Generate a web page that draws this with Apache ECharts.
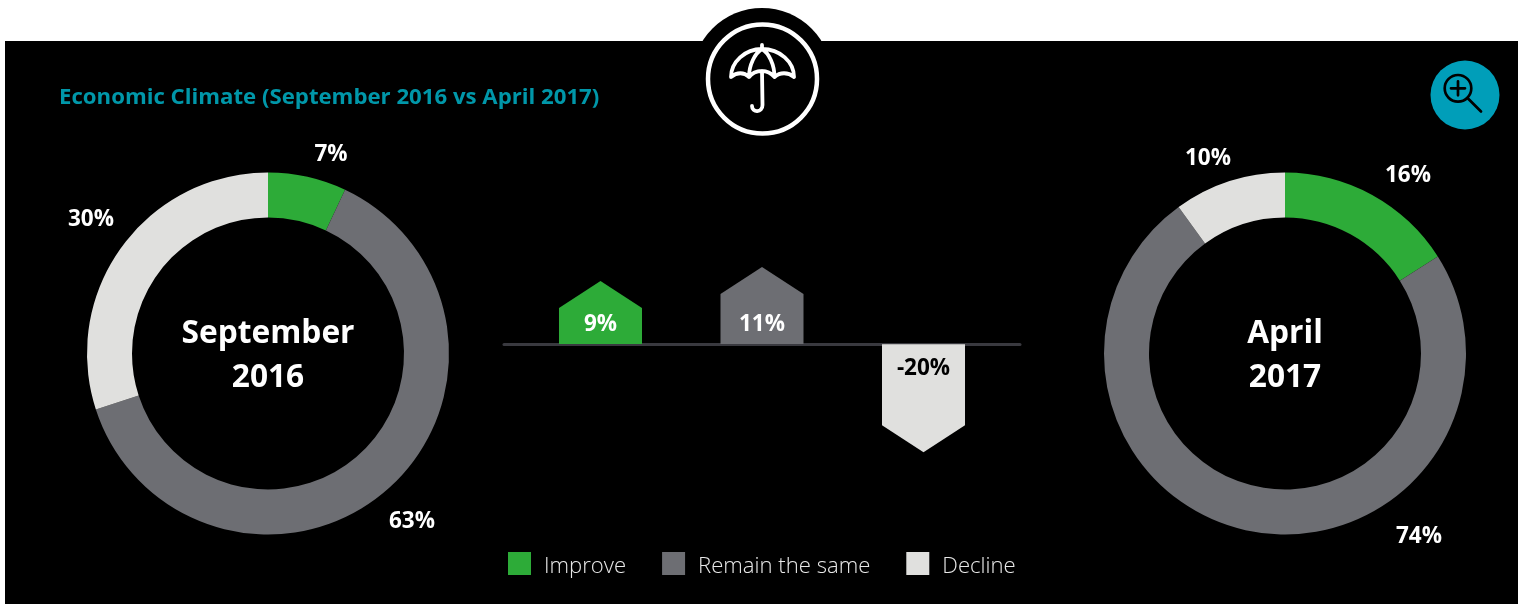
<!DOCTYPE html>
<html>
<head>
<meta charset="utf-8">
<title>Economic Climate</title>
<script src="https://cdn.jsdelivr.net/npm/echarts@6/dist/echarts.min.js"></script>
<style>
  html, body { margin: 0; padding: 0; background: #fff; }
  #chart { width: 1521px; height: 604px; }
</style>
</head>
<body>
<div id="chart"></div>
<script>
const categories = ['Improve', 'Remain the same', 'Decline'];
const september2016 = [7, 63, 30];
const april2017 = [16, 74, 10];
const changeValues = [9, 11, -20];
const chartTitle = 'Economic Climate (September 2016 vs April 2017)';
const leftCenterLabel = 'September\n2016';
const rightCenterLabel = 'April\n2017';

const GREEN = '#2dab38';
const GREY = '#6d6e73';
const LIGHT = '#e0e0de';
const TEAL = '#009eb9';
const FONT = '"Open Sans", "Noto Sans", sans-serif';
const colors = [GREEN, GREY, LIGHT];
const ARROW = 27;

// the donut labels in the reference are hand placed, not on the slice midpoints
const leftLabelSpots = [[331, 155], [412, 522], [91, 220]];
const rightLabelSpots = [[1408, 176], [1419, 537], [1208, 159]];

echarts.graphic.registerShape('umbrella', echarts.graphic.extendPath(
  'M762 45 L762 49 C745 49 731 62 731 77 C737 72 744 72 749 77 C752 73 757 71 762 71 C767 71 771 73 774.5 77 C780 72 788 72 794 77 C794 62 780 49 762 49 C755 53 749 65 749 77 M762 49 C769 53 774.5 65 774.5 77 M762 71 L762.5 105 C762.5 113 752 113 752 106',
  {},
));
echarts.graphic.registerShape('magnifier', echarts.graphic.extendPath(
  'M1467.5 98 L1481 111.5 M1451 88.3 L1465 88.3 M1458 81.3 L1458 95.3',
  {},
));

const donut = (name, values, center, spots) => ({
  name,
  type: 'pie',
  radius: [136, 181],
  center,
  startAngle: 90,
  clockwise: true,
  silent: true,
  animation: false,
  itemStyle: { borderWidth: 0 },
  label: {
    show: true,
    position: 'outside',
    formatter: '{c}%',
    color: '#fff',
    fontFamily: FONT,
    fontWeight: 700,
    fontSize: 22.5,
  },
  labelLine: { show: false },
  labelLayout: (params) => ({
    x: spots[params.dataIndex][0],
    y: spots[params.dataIndex][1],
    align: 'center',
    verticalAlign: 'middle',
  }),
  data: values.map((value, i) => ({ name: categories[i], value, itemStyle: { color: colors[i] } })),
});

const renderArrow = (params, api) => {
  const x = api.value(0);
  const value = api.value(1);
  const [cx, tip] = api.coord([x, value]);
  const base = api.coord([x, 0])[1];
  const half = api.size([1, 0])[0] * 0.257;
  const up = value >= 0;
  const shoulder = up ? tip + ARROW : tip - ARROW;
  return {
    type: 'group',
    children: [
      {
        type: 'polygon',
        shape: {
          points: [[cx - half, base], [cx - half, shoulder], [cx, tip], [cx + half, shoulder], [cx + half, base]],
        },
        style: { fill: colors[x] },
      },
      {
        type: 'text',
        style: {
          x: cx,
          y: up ? base - 19 : base + 24,
          text: `${value}%`,
          fill: up ? '#fff' : '#000',
          font: `700 22.5px ${FONT}`,
          align: 'center',
          verticalAlign: 'middle',
        },
      },
    ],
  };
};

const arrowData = changeValues.map((value, i) => [i, value]);

const option = {
  animation: false,
  backgroundColor: 'transparent',
  color: colors,
  legend: {
    data: categories,
    left: 503,
    top: 547,
    itemWidth: 23,
    itemHeight: 23,
    itemGap: 36,
    icon: 'rect',
    selectedMode: false,
    formatter: '{t|{name}}',
    textStyle: {
      rich: {
        t: {
          color: '#e8e8e8',
          fontFamily: FONT,
          fontWeight: 300,
          fontSize: 22.1,
          padding: [6, 0, 0, 8],
        },
      },
    },
  },
  grid: { left: 504, top: 246, width: 516, height: 217 },
  xAxis: {
    type: 'value',
    min: -0.5975,
    max: 2.5975,
    axisLabel: { show: false },
    axisTick: { show: false },
    splitLine: { show: false },
    axisLine: { show: true, onZero: true, lineStyle: { color: '#39393f', width: 3 } },
  },
  // upward and downward arrows are not drawn to the same scale in the reference
  yAxis: [
    { type: 'value', min: -17, max: 14, show: false, splitLine: { show: false } },
    { type: 'value', min: -22, max: 18.19, show: false, splitLine: { show: false } },
  ],
  series: [
    donut('September 2016', september2016, [268, 353.5], leftLabelSpots),
    donut('April 2017', april2017, [1285, 353.5], rightLabelSpots),
    {
      type: 'custom',
      name: 'Rise',
      yAxisIndex: 0,
      silent: true,
      z: 1,
      renderItem: renderArrow,
      encode: { x: 0, y: 1 },
      data: arrowData.filter((d) => d[1] >= 0),
    },
    {
      type: 'custom',
      name: 'Fall',
      yAxisIndex: 1,
      silent: true,
      z: 1,
      renderItem: renderArrow,
      encode: { x: 0, y: 1 },
      data: arrowData.filter((d) => d[1] < 0),
    },
  ],
  graphic: [
    { type: 'rect', z: -10, silent: true, shape: { x: 5, y: 41, width: 1513, height: 563 }, style: { fill: '#000' } },
    { type: 'circle', z: -9, silent: true, shape: { cx: 762, cy: 78, r: 70 }, style: { fill: '#000' } },
    { type: 'circle', z: 5, silent: true, shape: { cx: 762.5, cy: 79, r: 54.5 }, style: { fill: 'none', stroke: '#fff', lineWidth: 4.5 } },
    {
      type: 'umbrella',
      z: 5,
      silent: true,
      style: { fill: 'none', stroke: '#fff', lineWidth: 3.8, lineJoin: 'round', lineCap: 'round' },
    },
    { type: 'circle', z: 5, silent: true, shape: { cx: 1465, cy: 95, r: 34.5 }, style: { fill: TEAL } },
    { type: 'circle', z: 6, silent: true, shape: { cx: 1458, cy: 88.3, r: 13.3 }, style: { fill: 'none', stroke: '#000', lineWidth: 2.7 } },
    {
      type: 'magnifier',
      z: 6,
      silent: true,
      style: { fill: 'none', stroke: '#000', lineWidth: 2.7, lineCap: 'round' },
    },
    {
      type: 'text',
      z: 5,
      silent: true,
      style: { x: 59, y: 97.5, text: chartTitle, fill: '#0097a9', font: `700 22.2px ${FONT}`, align: 'left', verticalAlign: 'middle' },
    },
    {
      type: 'text',
      z: 5,
      silent: true,
      style: { x: 268, y: 356, text: leftCenterLabel, fill: '#fff', font: `700 31.7px ${FONT}`, lineHeight: 44, align: 'center', verticalAlign: 'middle' },
    },
    {
      type: 'text',
      z: 5,
      silent: true,
      style: { x: 1285, y: 356, text: rightCenterLabel, fill: '#fff', font: `700 31.7px ${FONT}`, lineHeight: 44, align: 'center', verticalAlign: 'middle' },
    },
  ],
};

const chart = echarts.init(document.getElementById('chart'));
chart.setOption(option);
</script>
</body>
</html>
